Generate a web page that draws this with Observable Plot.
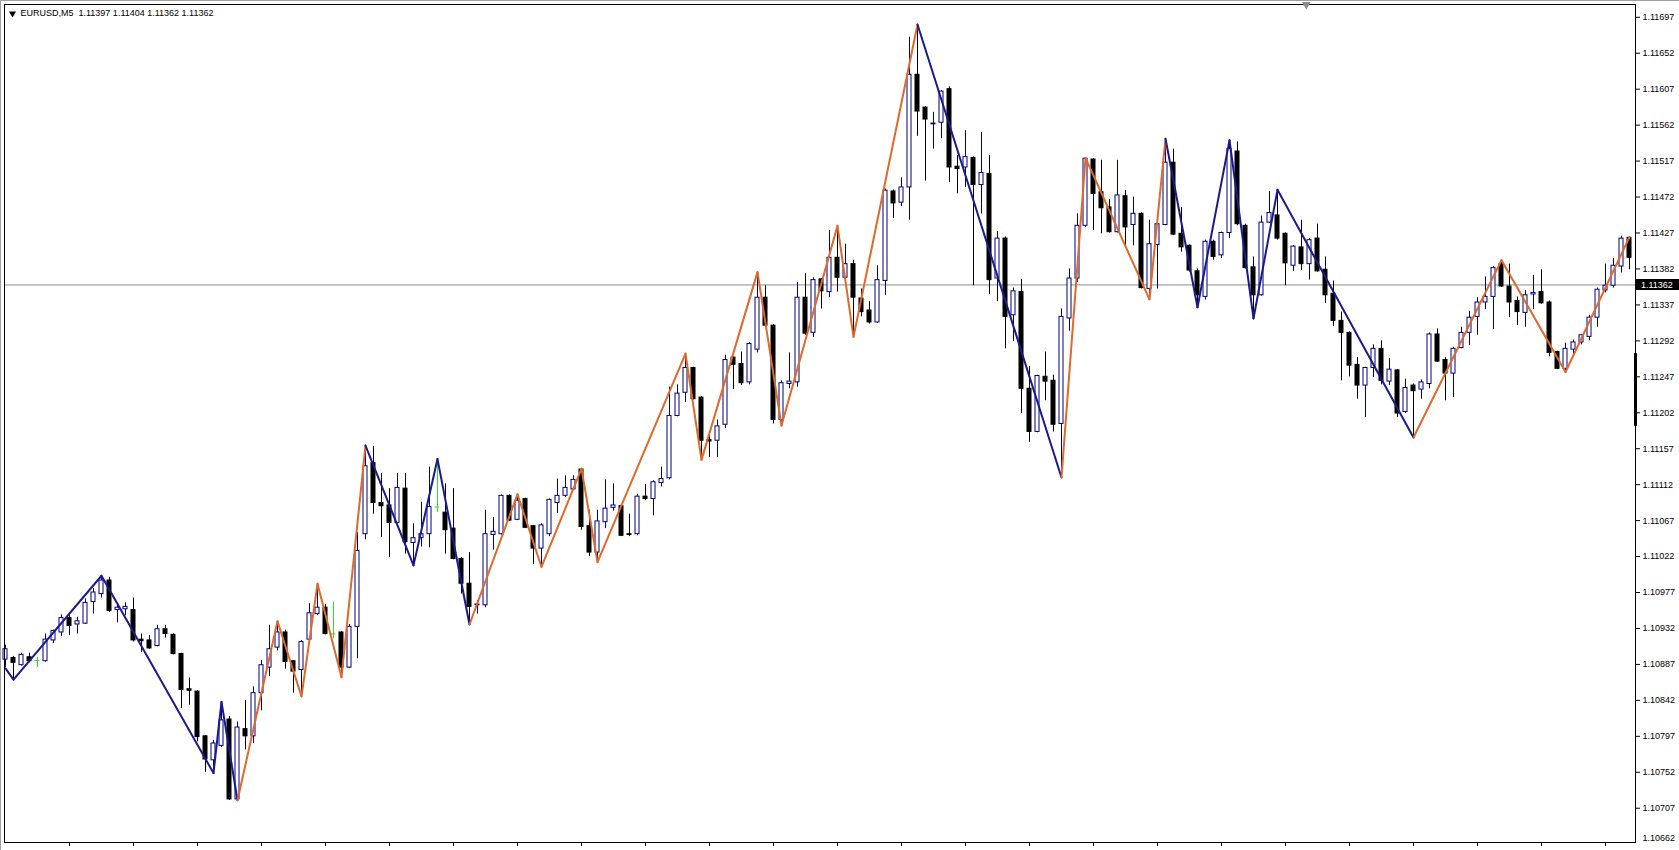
<!DOCTYPE html>
<html><head><meta charset="utf-8">
<script src="https://cdn.jsdelivr.net/npm/d3@7"></script>
<script src="https://cdn.jsdelivr.net/npm/@observablehq/plot@0.6"></script>
<style>html,body{margin:0;padding:0;background:#fff;overflow:hidden}</style>
</head><body><div id="chart"></div>
<script>
// ---------- data ----------
const symbol = "EURUSD,M5";
const headerQuote = ["1.11397", "1.11404", "1.11362", "1.11362"];
const bidPrice = 1.11362;

const open = [1.10893,1.10895,1.10886,1.10896,1.10892,1.10891,1.10917,1.10927,1.10945,1.10937,
1.10938,1.10965,1.10975,1.10992,1.10955,1.10956,1.10955,1.10918,1.10917,1.10910,
1.10931,1.10924,1.10900,1.10856,1.10853,1.10797,1.10767,1.10785,1.10818,1.10718,
1.10806,1.10797,1.10851,1.10883,1.10908,1.10927,1.10891,1.10880,1.10918,1.10950,
1.10958,1.10925,1.10927,1.10883,1.10934,1.11050,1.11139,1.11089,1.11086,1.11064,
1.11107,1.11039,1.11045,1.11050,1.11084,1.11077,1.11057,1.11019,1.10988,1.10961,
1.10961,1.11049,1.11050,1.11098,1.11068,1.11094,1.11060,1.11032,1.11050,1.11089,
1.11098,1.11106,1.11131,1.11060,1.11027,1.11065,1.11083,1.11085,1.11050,1.11050,
1.11097,1.11094,1.11114,1.11120,1.11198,1.11227,1.11258,1.11221,1.11168,1.11167,
1.11187,1.11271,1.11263,1.11240,1.11281,1.11346,1.11311,1.11193,1.11238,1.11240,
1.11346,1.11302,1.11369,1.11353,1.11396,1.11371,1.11388,1.11345,1.11330,1.11315,
1.11367,1.11479,1.11465,1.11484,1.11625,1.11584,1.11563,1.11565,1.11607,1.11510,
1.11509,1.11521,1.11487,1.11501,1.11370,1.11420,1.11324,1.11353,1.11232,1.11178,
1.11247,1.11242,1.11188,1.11320,1.11370,1.11436,1.11519,1.11478,1.11459,1.11428,
1.11473,1.11437,1.11451,1.11357,1.11412,1.11437,1.11515,1.11426,1.11411,1.11379,
1.11347,1.11416,1.11399,1.11427,1.11529,1.11436,1.11384,1.11349,1.11440,1.11449,
1.11426,1.11386,1.11409,1.11388,1.11420,1.11381,1.11351,1.11317,1.11302,1.11262,
1.11236,1.11258,1.11282,1.11241,1.11255,1.11203,1.11236,1.11231,1.11238,1.11300,
1.11268,1.11251,1.11283,1.11302,1.11322,1.11340,1.11347,1.11388,1.11360,1.11342,
1.11327,1.11350,1.11353,1.11340,1.11278,1.11257,1.11281,1.11290,1.11297,1.11321,
1.11355,1.11361,1.11385,1.11421];

const high = [1.10911,1.10897,1.10901,1.10901,1.10896,1.10925,1.10930,1.10949,1.10948,1.10946,
1.10969,1.10982,1.10998,1.10996,1.10963,1.10964,1.10970,1.10925,1.10923,1.10936,
1.10936,1.10925,1.10901,1.10870,1.10854,1.10798,1.10792,1.10840,1.10822,1.10815,
1.10842,1.10859,1.10892,1.10936,1.10941,1.10930,1.10892,1.10917,1.10963,1.10988,
1.10962,1.10965,1.10928,1.10937,1.11052,1.11161,1.11160,1.11126,1.11107,1.11126,
1.11126,1.11063,1.11090,1.11134,1.11144,1.11113,1.11107,1.11021,1.11027,1.10967,
1.11080,1.11071,1.11099,1.11099,1.11100,1.11095,1.11061,1.11063,1.11094,1.11119,
1.11123,1.11123,1.11132,1.11080,1.11080,1.11118,1.11113,1.11086,1.11075,1.11100,
1.11112,1.11117,1.11134,1.11234,1.11237,1.11276,1.11259,1.11222,1.11176,1.11193,
1.11274,1.11272,1.11278,1.11290,1.11378,1.11361,1.11312,1.11242,1.11277,1.11365,
1.11376,1.11371,1.11370,1.11430,1.11436,1.11413,1.11393,1.11357,1.11341,1.11386,
1.11482,1.11481,1.11496,1.11672,1.11688,1.11585,1.11578,1.11605,1.11610,1.11524,
1.11555,1.11522,1.11553,1.11524,1.11429,1.11422,1.11358,1.11369,1.11260,1.11249,
1.11278,1.11249,1.11332,1.11382,1.11451,1.11521,1.11520,1.11518,1.11469,1.11518,
1.11480,1.11472,1.11452,1.11443,1.11443,1.11545,1.11532,1.11459,1.11412,1.11382,
1.11418,1.11418,1.11428,1.11543,1.11541,1.11438,1.11397,1.11448,1.11479,1.11481,
1.11427,1.11411,1.11443,1.11420,1.11438,1.11397,1.11367,1.11328,1.11303,1.11271,
1.11259,1.11287,1.11292,1.11270,1.11256,1.11244,1.11238,1.11243,1.11302,1.11307,
1.11271,1.11284,1.11309,1.11329,1.11346,1.11372,1.11385,1.11393,1.11388,1.11347,
1.11355,1.11374,1.11381,1.11342,1.11279,1.11289,1.11293,1.11300,1.11324,1.11358,
1.11388,1.11395,1.11423,1.11422];

const low = [1.10883,1.10868,1.10885,1.10889,1.10883,1.10890,1.10913,1.10922,1.10923,1.10925,
1.10937,1.10950,1.10970,1.10952,1.10939,1.10948,1.10915,1.10902,1.10906,1.10909,
1.10920,1.10899,1.10832,1.10836,1.10790,1.10752,1.10751,1.10783,1.10717,1.10717,
1.10780,1.10788,1.10829,1.10872,1.10904,1.10881,1.10851,1.10847,1.10917,1.10948,
1.10924,1.10919,1.10871,1.10882,1.10894,1.11043,1.11075,1.11046,1.11021,1.11063,
1.11025,1.11011,1.11034,1.11033,1.11077,1.11025,1.11018,1.10975,1.10937,1.10950,
1.10958,1.11030,1.11049,1.11066,1.11067,1.11057,1.11012,1.11009,1.11047,1.11076,
1.11096,1.11105,1.11055,1.11022,1.11015,1.11057,1.11079,1.11047,1.11047,1.11048,
1.11092,1.11073,1.11109,1.11118,1.11197,1.11215,1.11218,1.11143,1.11146,1.11146,
1.11182,1.11231,1.11236,1.11237,1.11277,1.11310,1.11188,1.11186,1.11232,1.11234,
1.11299,1.11296,1.11332,1.11346,1.11353,1.11370,1.11297,1.11322,1.11313,1.11314,
1.11349,1.11445,1.11460,1.11443,1.11548,1.11492,1.11532,1.11545,1.11490,1.11476,
1.11484,1.11361,1.11451,1.11350,1.11341,1.11282,1.11291,1.11201,1.11165,1.11177,
1.11217,1.11178,1.11121,1.11304,1.11365,1.11434,1.11430,1.11426,1.11427,1.11427,
1.11411,1.11411,1.11357,1.11344,1.11357,1.11436,1.11424,1.11403,1.11378,1.11334,
1.11343,1.11393,1.11395,1.11420,1.11436,1.11382,1.11320,1.11348,1.11439,1.11418,
1.11361,1.11379,1.11380,1.11368,1.11378,1.11339,1.11310,1.11242,1.11247,1.11219,
1.11196,1.11246,1.11237,1.11236,1.11196,1.11201,1.11171,1.11219,1.11232,1.11265,
1.11217,1.11221,1.11282,1.11286,1.11299,1.11331,1.11306,1.11359,1.11321,1.11311,
1.11309,1.11331,1.11338,1.11272,1.11256,1.11253,1.11272,1.11287,1.11292,1.11309,
1.11352,1.11358,1.11377,1.11381];

const close = [1.10906,1.10889,1.10899,1.10891,1.10892,1.10918,1.10929,1.10945,1.10935,1.10941,
1.10964,1.10977,1.10992,1.10954,1.10958,1.10959,1.10917,1.10916,1.10907,1.10931,
1.10925,1.10900,1.10855,1.10854,1.10796,1.10768,1.10788,1.10817,1.10718,1.10808,
1.10797,1.10851,1.10886,1.10906,1.10927,1.10890,1.10878,1.10915,1.10951,1.10958,
1.10925,1.10925,1.10883,1.10934,1.11029,1.11135,1.11089,1.11085,1.11064,1.11108,
1.11040,1.11045,1.11050,1.11084,1.11084,1.11055,1.11019,1.10988,1.10959,1.10962,
1.11050,1.11053,1.11098,1.11067,1.11092,1.11058,1.11032,1.11061,1.11093,1.11098,
1.11108,1.11118,1.11059,1.11027,1.11066,1.11082,1.11086,1.11048,1.11049,1.11097,
1.11094,1.11115,1.11119,1.11198,1.11226,1.11258,1.11219,1.11167,1.11166,1.11185,
1.11268,1.11262,1.11239,1.11288,1.11346,1.11311,1.11193,1.11239,1.11241,1.11346,
1.11301,1.11368,1.11354,1.11396,1.11371,1.11388,1.11346,1.11328,1.11315,1.11368,
1.11480,1.11464,1.11484,1.11625,1.11579,1.11569,1.11564,1.11604,1.11509,1.11507,
1.11522,1.11487,1.11502,1.11368,1.11420,1.11322,1.11354,1.11232,1.11178,1.11248,
1.11241,1.11187,1.11322,1.11370,1.11436,1.11520,1.11476,1.11458,1.11428,1.11474,
1.11434,1.11451,1.11358,1.11413,1.11438,1.11515,1.11425,1.11409,1.11380,1.11349,
1.11416,1.11397,1.11427,1.11532,1.11438,1.11383,1.11349,1.11440,1.11452,1.11420,
1.11389,1.11410,1.11388,1.11418,1.11379,1.11349,1.11317,1.11302,1.11261,1.11236,
1.11258,1.11282,1.11242,1.11256,1.11201,1.11233,1.11229,1.11240,1.11300,1.11266,
1.11251,1.11282,1.11302,1.11321,1.11340,1.11347,1.11383,1.11360,1.11340,1.11328,
1.11349,1.11352,1.11339,1.11277,1.11257,1.11282,1.11290,1.11299,1.11321,1.11356,
1.11361,1.11386,1.11420,1.11396];

// ZigZag pivots (bar index, price) and trend of each leg (d = navy, u = orange)
const pivotIndex = [0,1,12,26,27,29,34,37,39,42,45,51,54,58,64,67,72,74,85,87,94,97,104,106,114,132,135,143,145,149,153,156,159,176,187,195,203];
const pivotPrice = [1.10882,1.10868,1.10998,1.10751,1.10840,1.10717,1.10941,1.10847,1.10988,1.10871,
1.11161,1.11011,1.11144,1.10937,1.11100,1.11009,1.11132,1.11015,1.11276,1.11143,
1.11378,1.11186,1.11436,1.11297,1.11688,1.11121,1.11521,1.11344,1.11545,1.11334,
1.11543,1.11320,1.11481,1.11171,1.11393,1.11253,1.11422];
const legTrend = ["d","d","d","d","d","u","u","u","u","u","d","d","d",
"u","u","u","u","u","u","u","u","u","u","u","d","u","u","u","d","d","d","d","d","u","u","u"];

const yTicks = [1.11697,1.11652,1.11607,1.11562,1.11517,1.11472,1.11427,1.11382,1.11337,1.11292,1.11247,1.11202,
1.11157,1.11112,1.11067,1.11022,1.10977,1.10932,1.10887,1.10842,1.10797,1.10752,1.10707,1.10662];
const timeTicks = [8,16,24,32,40,48,56,64,72,80,88,96,104,112,120,128,136,144,152,160,168,176,184,192,200];
const axisMarker = [1.11185, 1.11276];
const shiftMarkerIndex = 162.6;

// ---------- build ----------
const W = 1679, H = 850;
const mL = 4, mR = 44, mT = 4, mB = 8;
const candles = open.map((o, i) => ({i, o, h: high[i], l: low[i], c: close[i]}));
const kind = d => d.c > d.o ? "up" : d.c < d.o ? "down" : "flat";
const candleColor = {up: "#000080", down: "#000000", flat: "#33dd33"};
const legColor = {d: "#1a1a8e", u: "#e0692a"};
const legs = pivotIndex.slice(0, -1).map((x, k) => ({
  x1: x, y1: pivotPrice[k], x2: pivotIndex[k + 1], y2: pivotPrice[k + 1], t: legTrend[k]
}));
const xDomain = [-0.125, (W - mL - mR) / 8 - 0.125];
const yDomain = [1.106641, 1.117130];
const bodies = candles.filter(d => kind(d) !== "flat");
const dojis = candles.filter(d => kind(d) === "flat");
const font = "'Liberation Sans', Arial, sans-serif";

const plot = Plot.plot({
  width: W, height: H,
  marginLeft: mL, marginRight: mR, marginTop: mT, marginBottom: mB,
  x: {domain: xDomain, axis: null},
  y: {domain: yDomain, axis: null},
  style: {background: "#ffffff", fontFamily: font, fontSize: "9px", color: "#000", overflow: "visible"},
  marks: [
    Plot.ruleY([bidPrice], {stroke: "#8c8c8c", strokeWidth: 1}),
    Plot.ruleX(candles, {x: "i", y1: "l", y2: "h", stroke: d => candleColor[kind(d)], strokeWidth: 1}),
    Plot.rect(bodies, {x1: d => d.i - 0.25, x2: d => d.i + 0.25, y1: "o", y2: "c",
      fill: d => kind(d) === "down" ? "#000" : "#fff", stroke: d => candleColor[kind(d)], strokeWidth: 1}),
    Plot.ruleY(dojis, {y: "o", x1: d => d.i - 0.3125, x2: d => d.i + 0.3125, stroke: candleColor.flat, strokeWidth: 1}),
    Plot.link(legs, {x1: "x1", y1: "y1", x2: "x2", y2: "y2", stroke: d => legColor[d.t],
      strokeWidth: 2, strokeLinecap: "round", strokeLinejoin: "round"}),
    Plot.frame({stroke: "#000", strokeWidth: 1}),
    Plot.axisY(yTicks.slice(0, -1), {anchor: "right", tickSize: 4, tickPadding: 3,
      tickFormat: d => d.toFixed(5), fontSize: 9, fill: "#000", stroke: "#000"}),
    Plot.text(yTicks.slice(-1), {y: d => d, frameAnchor: "right", dx: 7, dy: -6, text: d => d.toFixed(5),
      textAnchor: "start", fontSize: 9, fill: "#000"}),
    Plot.axisX(timeTicks, {anchor: "bottom", tickSize: 4, tickFormat: () => "", stroke: "#000"}),
    Plot.ruleX([xDomain[1]], {y1: axisMarker[0], y2: axisMarker[1], stroke: "#000", strokeWidth: 3}),
    Plot.dot([shiftMarkerIndex], {x: d => d, frameAnchor: "top", symbol: "triangle", rotate: 180, r: 3.2, dy: 0, fill: "#8a8a8a", stroke: "none"}),
    Plot.dot([0], {frameAnchor: "top-left", dx: 8, dy: 9, symbol: "triangle", rotate: 180, r: 2.6, fill: "#000", stroke: "none"}),
    Plot.text([symbol + "  " + headerQuote.join(" ")], {frameAnchor: "top-left", dx: 16, dy: 9,
      textAnchor: "start", lineAnchor: "middle", fontSize: 9, fill: "#000"})
  ]
});

document.getElementById("chart").appendChild(plot);

// bid price label on the price scale
const svg = d3.select(plot);
const by = plot.scale("y").apply(bidPrice);
const g = svg.append("g");
g.append("rect").attr("x", W - mR + 1).attr("y", Math.round(by) - 5).attr("width", mR - 1).attr("height", 11).attr("fill", "#000");
g.append("text").attr("x", W - mR + 6).attr("y", Math.round(by) + 0.5).attr("dy", "0.35em")
  .attr("text-anchor", "start")
  .attr("fill", "#fff").attr("font-size", 9).attr("font-family", font).text(bidPrice.toFixed(5));
// window border
svg.append("path").attr("d", `M0.5,${H}V0.5H${W}`).attr("stroke", "#a0a0a0").attr("fill", "none");
</script>
</body></html>
